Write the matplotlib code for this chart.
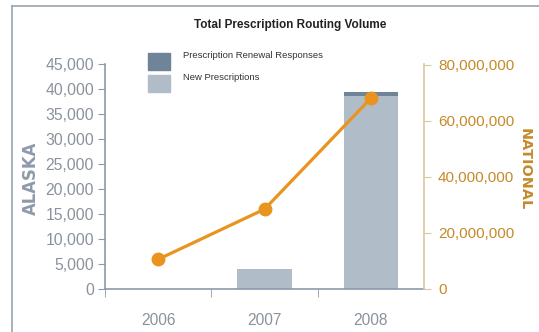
import matplotlib
matplotlib.use("Agg")
import matplotlib.pyplot as plt
from matplotlib.patches import Rectangle
from matplotlib.lines import Line2D
from matplotlib.ticker import FuncFormatter

years = ["2006", "2007", "2008"]
new_prescriptions = [0, 4000, 38600]
renewal_responses = [0, 0, 900]
national_volume = [10.6e6, 28.5e6, 68.1e6]

alaska_ticks = list(range(0, 45001, 5000))
national_ticks = [0, 20e6, 40e6, 60e6, 80e6]

SANS = ["Liberation Sans", "DejaVu Sans"]
C_DARK = "#6f8399"
C_LIGHT = "#b0bdc9"
C_LINE = "#e8941f"
C_AX_L = "#8e9aab"
C_AX_R = "#c58a2a"
C_SPINE_R = "#d9c6a3"
C_TXT = "#8a929c"

fig = plt.figure(figsize=(5.39, 3.32), dpi=100)
W, H = 539, 332

# outer frame (top and left rules)
fig.add_artist(Line2D([12 / W, 1], [1 - 6 / H, 1 - 6 / H], color="#9aa3ad", lw=1.2))
fig.add_artist(Line2D([12 / W, 12 / W], [0, 1 - 6 / H], color="#9aa3ad", lw=1.2))

ax = fig.add_axes([105 / W, 43 / H, 319 / W, 225 / H])
x = list(range(len(years)))
ax.bar(x, new_prescriptions, width=0.51, color=C_LIGHT, zorder=2)
ax.bar(x, renewal_responses, width=0.51, bottom=new_prescriptions, color=C_DARK, zorder=2)
ax.set_xlim(-0.5, 2.5)
ax.set_ylim(0, 45000)
ax.set_yticks(alaska_ticks)
ax.yaxis.set_major_formatter(FuncFormatter(lambda v, p: f"{int(v):,}"))
ax.set_xticks(x)
ax.set_xticklabels(years)
ax.set_xticks([-0.5, 0.5, 1.5], minor=True)
ax.tick_params(axis="x", which="major", length=0, pad=17, labelsize=11.2, labelcolor=C_TXT)
ax.tick_params(axis="x", which="minor", length=6, color=C_AX_L, direction="out")
ax.tick_params(axis="y", length=5, color=C_AX_L, labelsize=11.3, labelcolor=C_TXT, pad=3)
for lab in ax.get_xticklabels() + ax.get_yticklabels():
    lab.set_family(SANS)
for s in ["top", "right"]:
    ax.spines[s].set_visible(False)
ax.spines["left"].set_color(C_AX_L)
ax.spines["bottom"].set_color(C_AX_L)
ax.spines["left"].set_linewidth(1.2)
ax.spines["bottom"].set_linewidth(1.2)

ax2 = ax.twinx()
ax2.plot(x, national_volume, color=C_LINE, lw=2.3, marker="o", ms=9, zorder=5)
ax2.set_ylim(0, 80e6 * 225 / 224)
ax2.set_yticks(national_ticks)
ax2.yaxis.set_major_formatter(FuncFormatter(lambda v, p: f"{int(v):,}"))
ax2.tick_params(axis="y", length=5, color=C_SPINE_R, labelsize=11, labelcolor=C_AX_R, pad=5)
for lab in ax2.get_yticklabels():
    lab.set_family(SANS)
for s in ["top", "left", "bottom"]:
    ax2.spines[s].set_visible(False)
ax2.spines["right"].set_color(C_SPINE_R)
ax2.spines["right"].set_linewidth(1.2)

fig.text(31 / W, 1 - 178 / H, "ALASKA", rotation=90, ha="center", va="center",
         fontsize=11.9, fontweight="bold", color=C_AX_L, family="DejaVu Sans")
fig.text(525 / W, 1 - 169 / H, "NATIONAL", rotation=-90, ha="center", va="center",
         fontsize=10.4, fontweight="bold", color=C_AX_R, family="DejaVu Sans")

fig.text(290 / W, 1 - 25 / H, "Total Prescription Routing Volume", ha="center", va="center",
         fontsize=8.5, fontweight="bold", color="#222222", family=SANS)

# legend
for (y0, col, label) in [(53, C_DARK, "Prescription Renewal Responses"),
                         (75, C_LIGHT, "New Prescriptions")]:
    fig.add_artist(Rectangle((148 / W, 1 - (y0 + 17) / H), 22 / W, 17 / H,
                             color=col, transform=fig.transFigure))
    fig.text(183 / W, 1 - (y0 + 3) / H, label, ha="left", va="center",
             fontsize=6.8, color="#333333", family=SANS)

fig.savefig("out.png", dpi=100)
